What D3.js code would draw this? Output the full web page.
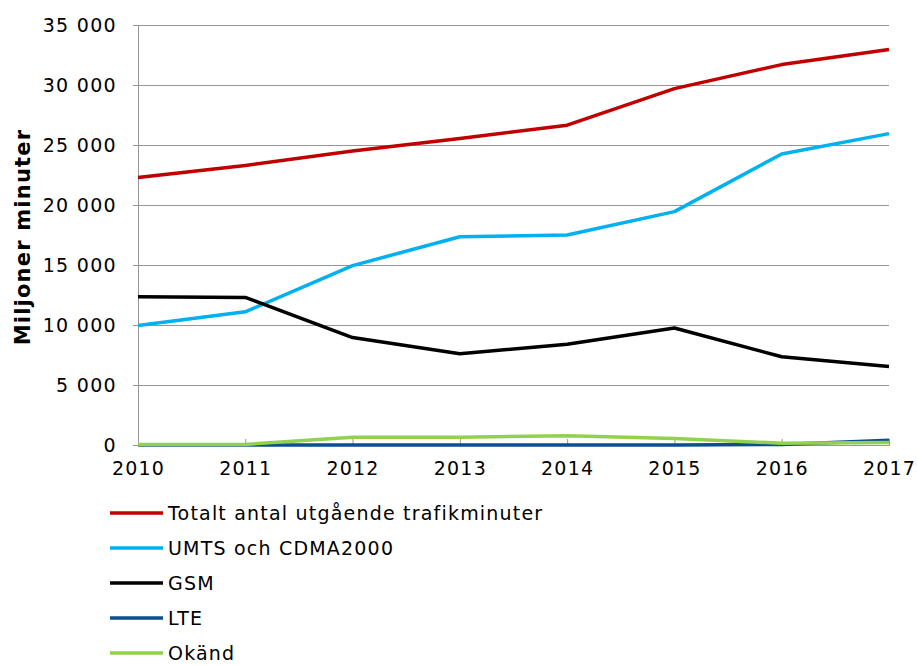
<!DOCTYPE html>
<html lang="sv">
<head>
<meta charset="UTF-8">
<script src="https://d3js.org/d3.v7.min.js"></script>
<title>Utgående trafikminuter</title>
<style>
  body { margin: 0; background: #fff; }
  text { font-family: Verdana, "DejaVu Sans", sans-serif; fill: #000; }
</style>
</head>
<body>
<script>
// Data (miljoner minuter)
const years = [2010, 2011, 2012, 2013, 2014, 2015, 2016, 2017];
const totalt = [22300, 23300, 24500, 25550, 26650, 29700, 31700, 32950];
const umts = [9950, 11100, 14950, 17350, 17500, 19450, 24250, 25950];
const gsm = [12350, 12300, 8950, 7600, 8400, 9750, 7350, 6550];
const lte = [0, 0, 0, 0, 0, 0, 50, 400];
const okand = [50, 50, 650, 650, 780, 550, 150, 200];
const yTicks = [0, 5000, 10000, 15000, 20000, 25000, 30000, 35000];

const series = [
  { name: 'Totalt antal utgående trafikminuter', values: totalt, color: '#C00000' },
  { name: 'UMTS och CDMA2000', values: umts, color: '#00B0F0' },
  { name: 'GSM', values: gsm, color: '#000000' },
  { name: 'LTE', values: lte, color: '#0B4F8F' },
  { name: 'Okänd', values: okand, color: '#92D050' }
];

const W = 917, H = 665;
const plot = { left: 138, right: 889, top: 25, bottom: 445 };

const svg = d3.select('body').append('svg')
  .attr('width', W)
  .attr('height', H);

const x = d3.scaleLinear().domain([2010, 2017]).range([plot.left, plot.right]);
const y = d3.scaleLinear().domain([0, 35000]).range([plot.bottom, plot.top]);

const fmt = v => d3.format(',')(v).replace(/,/g, ' ');

// gridlines
svg.append('g')
  .selectAll('line')
  .data(yTicks)
  .enter()
  .append('line')
  .attr('x1', plot.left)
  .attr('x2', plot.right)
  .attr('y1', d => y(d))
  .attr('y2', d => y(d))
  .attr('stroke', '#969696')
  .attr('stroke-width', 1)
  .attr('shape-rendering', 'crispEdges');

// y axis
const yAxis = svg.append('g')
  .attr('transform', `translate(${plot.left},0)`)
  .call(d3.axisLeft(y).tickValues(yTicks).tickFormat(fmt).tickSize(5).tickPadding(16));
yAxis.select('.domain').attr('stroke', '#969696');
yAxis.selectAll('.tick line').attr('stroke', '#969696');
yAxis.selectAll('text')
  .style('font-size', '19px')
  .style('letter-spacing', '1.3px')
  .attr('dy', '0.35em');

// x axis
const xAxis = svg.append('g')
  .attr('transform', `translate(0,${plot.bottom})`)
  .call(d3.axisBottom(x).tickValues(years).tickFormat(d3.format('d')).tickSize(-6).tickPadding(17));
xAxis.select('.domain').attr('stroke', '#969696');
xAxis.selectAll('.tick line').attr('stroke', '#969696');
xAxis.selectAll('text')
  .style('font-size', '19px')
  .style('letter-spacing', '1.2px');

// y axis title
svg.append('text')
  .attr('transform', `translate(30,${(plot.top + plot.bottom) / 2 + 2}) rotate(-90)`)
  .attr('text-anchor', 'middle')
  .style('font-size', '21px')
  .style('font-weight', 'bold')
  .style('letter-spacing', '1.2px')
  .text('Miljoner minuter');

// lines
const line = d3.line()
  .x((d, i) => x(years[i]))
  .y(d => y(d));

svg.append('g')
  .selectAll('path')
  .data(series)
  .enter()
  .append('path')
  .attr('d', d => line(d.values))
  .attr('fill', 'none')
  .attr('stroke', d => d.color)
  .attr('stroke-width', 3.5)
  .attr('stroke-linejoin', 'round');

// legend
const legend = svg.append('g')
  .selectAll('g')
  .data(series)
  .enter()
  .append('g')
  .attr('transform', (d, i) => `translate(110,${513 + i * 35})`);

legend.append('line')
  .attr('x1', 0)
  .attr('x2', 53)
  .attr('stroke', d => d.color)
  .attr('stroke-width', 3.5);

legend.append('text')
  .attr('x', 58)
  .attr('dy', '0.35em')
  .style('font-size', '19px')
  .style('letter-spacing', '1.2px')
  .text(d => d.name);
</script>
</body>
</html>
